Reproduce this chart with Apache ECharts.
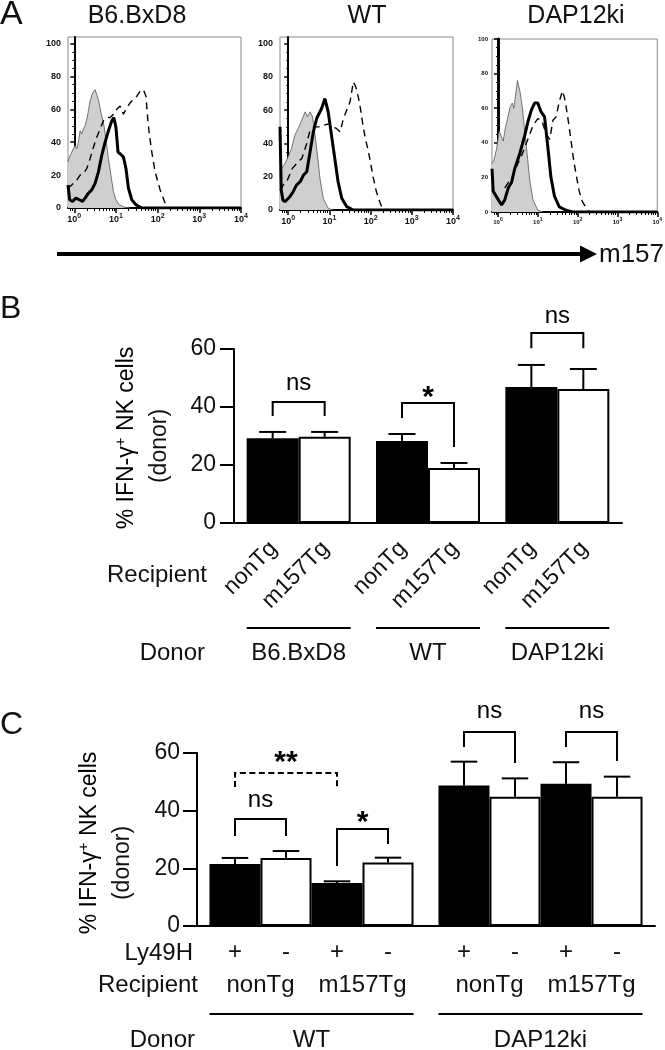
<!DOCTYPE html>
<html><head><meta charset="utf-8">
<script src="https://cdn.jsdelivr.net/npm/echarts@6/dist/echarts.min.js"></script>
<style>html,body{margin:0;padding:0;background:#fff}#c{width:665px;height:1050px}</style>
</head><body><div id="c"></div>
<script>
// ---------------- Panel A: flow histograms, x = log10(m157), y = % of max ----------------
const aTitles = ['B6.BxD8', 'WT', 'DAP12ki'];
const aDecades = [0, 1, 2, 3, 4];
const aYTicks = [0, 20, 40, 60, 80, 100];

const isoB6 = [[-0.15,28],[-0.13,30],[-0.06,34],[0.02,38],[0.06,36],[0.10,40],[0.14,47],[0.18,45],[0.22,48],[0.26,50],[0.31,55],[0.38,65],[0.44,70],[0.50,72],[0.54,69],[0.58,66],[0.64,58],[0.70,52],[0.76,42],[0.82,30],[0.88,20],[0.94,10],[1.00,5],[1.08,2],[1.20,0.5],[1.35,0]];
const solidB6 = [[-0.15,14],[-0.11,5],[-0.04,4],[0.04,6],[0.12,5],[0.20,4],[0.26,6],[0.34,9],[0.42,11],[0.50,15],[0.58,22],[0.66,32],[0.74,40],[0.82,47],[0.90,53],[0.95,55],[1.00,49],[1.05,34],[1.10,33],[1.18,31],[1.24,24],[1.30,12],[1.38,5],[1.48,2],[1.62,0],[4,0]];
const dashB6 = [[-0.15,12],[-0.06,14],[0.06,17],[0.14,20],[0.22,21],[0.30,24],[0.38,30],[0.46,37],[0.54,43],[0.62,48],[0.70,53],[0.78,55],[0.86,55],[0.94,57],[1.02,60],[1.10,62],[1.18,57],[1.26,61],[1.34,64],[1.42,66],[1.50,68],[1.58,71],[1.66,72],[1.72,68],[1.76,55],[1.80,45],[1.86,34],[1.94,22],[2.06,11],[2.18,3],[2.26,0]];

const isoWT = [[-0.20,24],[-0.10,27],[-0.02,31],[0.08,37],[0.16,45],[0.24,49],[0.33,54],[0.41,59],[0.47,56],[0.53,59],[0.59,56],[0.65,45],[0.71,33],[0.77,19],[0.85,7],[0.97,1],[1.09,0]];
const solidWT = [[-0.20,50],[-0.17,12],[-0.13,6],[-0.08,5],[0.04,8],[0.12,11],[0.20,15],[0.29,17],[0.37,21],[0.45,23],[0.53,35],[0.61,47],[0.69,55],[0.81,61],[0.89,67],[0.97,59],[1.05,45],[1.13,31],[1.21,17],[1.30,7],[1.42,2],[1.58,0],[4,0]];
const dashWT = [[-0.20,12],[-0.12,15],[-0.02,18],[0.10,25],[0.24,29],[0.33,31],[0.45,40],[0.53,48],[0.63,50],[0.75,50],[0.87,51],[1.01,52],[1.09,50],[1.17,49],[1.26,47],[1.34,55],[1.42,60],[1.50,65],[1.58,77],[1.64,74],[1.70,68],[1.76,60],[1.82,50],[1.88,42],[1.94,36],[2.00,28],[2.06,20],[2.14,11],[2.22,5],[2.30,0]];

const isoDAP = [[-0.15,28],[-0.10,30],[-0.03,37],[0.03,47],[0.07,48],[0.13,41],[0.19,49],[0.25,55],[0.31,61],[0.36,63],[0.40,60],[0.45,69],[0.49,76],[0.55,70],[0.61,61],[0.67,47],[0.73,34],[0.80,18],[0.88,7],[1.00,1],[1.13,0]];
const solidDAP = [[-0.15,25],[-0.12,12],[-0.08,11],[0.01,7],[0.09,4],[0.17,7],[0.26,14],[0.34,17],[0.42,25],[0.55,34],[0.67,44],[0.75,52],[0.84,59],[0.92,63],[1.00,63],[1.08,58],[1.17,55],[1.25,38],[1.33,20],[1.42,9],[1.54,3],[1.71,1],[1.87,0],[4,0]];
const dashDAP = [[0.17,14],[0.26,17],[0.34,19],[0.46,26],[0.60,33],[0.75,42],[0.88,50],[1.00,54],[1.10,53],[1.21,45],[1.30,42],[1.38,53],[1.46,55],[1.54,64],[1.62,70],[1.67,66],[1.71,61],[1.77,52],[1.83,42],[1.90,30],[1.96,22],[2.04,12],[2.12,6],[2.20,3],[2.29,0]];

// ---------------- Panel B ----------------
const bDonors = ['B6.BxD8', 'WT', 'DAP12ki'];
const bRecipients = ['nonTg', 'm157Tg'];
const bNonTg = [29.2, 28.3, 46.9];
const bNonTgErr = [2.2, 2.4, 7.6];
const bM157Tg = [29.7, 19.0, 46.2];
const bM157TgErr = [1.7, 1.7, 6.9];
const bSigCat = [0, 1, 2];
const bSigLeft = [0, 0, 0];
const bSigRight = [1, 1, 1];
const bSigTop = [41.7, 41.4, 65.5];
const bSigLeftEnd = [36.9, 36.2, 60.3];
const bSigRightEnd = [36.9, 26.2, 60.3];
const bSigLabelY = [48.3, 43.1, 71.4];
const bSigLabel = ['ns', '*', 'ns'];
const bSigDashed = [false, false, false];

// ---------------- Panel C ----------------
const cDonors = ['WT', 'DAP12ki'];
const cRecipients = ['nonTg', 'm157Tg'];
const cLy49H = ['+', '-', '+', '-'];
const cNonTgPos = [21.5, 48.7];  const cNonTgPosErr = [2.1, 8.3];
const cNonTgNeg = [23.6, 44.8];  const cNonTgNegErr = [2.4, 6.4];
const cM157Pos = [14.9, 49.3];   const cM157PosErr = [0.6, 7.5];
const cM157Neg = [22.0, 44.8];   const cM157NegErr = [1.7, 7.0];
const cSigCat = [0, 0, 0, 1, 1];
const cSigLeft = [0, 0, 2, 0, 2];
const cSigRight = [1, 2, 3, 1, 3];
const cSigTop = [37.1, 53.1, 33.6, 67.3, 67.3];
const cSigLeftEnd = [31.2, 48.2, 20.8, 62.1, 62.1];
const cSigRightEnd = [31.2, 48.2, 28.4, 56.5, 57.2];
const cSigLabelY = [43.7, 56.5, 35.7, 74.6, 74.6];
const cSigLabel = ['ns', '**', '*', 'ns', 'ns'];
const cSigDashed = [false, true, false, false, false];

// ---------------- helpers ----------------
const FONT = '"Liberation Sans", Arial, Helvetica, sans-serif';
const GAP_B = 0.196, GAP_C = 0.109;

function barX(api, cat, idx, n, gap) {
  const w = api.size([1, 0])[0];
  const c = api.coord([cat, 0])[0];
  const inner = w * (1 - gap);
  return c - inner / 2 + inner / n * (idx + 0.5);
}
function barW(api, n, gap) { return api.size([1, 0])[0] * (1 - gap) / n; }

function errSeries(xi, yi, values, errs, idx, n, gap) {
  return {
    type: 'custom', xAxisIndex: xi, yAxisIndex: yi, silent: true, z: 3,
    data: values.map((v, i) => [i, v, v + errs[i]]),
    encode: { x: 0, y: [1, 2] },
    renderItem: (params, api) => {
      const cat = api.value(0);
      const x = barX(api, cat, idx, n, gap);
      const y0 = api.coord([cat, api.value(1)])[1];
      const y1 = api.coord([cat, api.value(2)])[1];
      const hw = barW(api, n, gap) / 4 + 0.5;
      return { type: 'group', children: [
        { type: 'line', shape: { x1: x, y1: y0, x2: x, y2: y1 }, style: { stroke: '#000', lineWidth: 2 } },
        { type: 'line', shape: { x1: x - hw, y1: y1, x2: x + hw, y2: y1 }, style: { stroke: '#000', lineWidth: 2 } }
      ] };
    }
  };
}

function sigSeries(xi, yi, cats, lefts, rights, tops, lEnds, rEnds, labYs, labels, dashed, n, gap) {
  return {
    type: 'custom', xAxisIndex: xi, yAxisIndex: yi, silent: true, clip: false, z: 4,
    data: cats.map((c, i) => [c, tops[i], lEnds[i], rEnds[i], labYs[i]]),
    encode: { x: 0, y: [1, 2, 3, 4] },
    renderItem: (params, api) => {
      const i = params.dataIndex, cat = api.value(0);
      const xl = barX(api, cat, lefts[i], n, gap), xr = barX(api, cat, rights[i], n, gap);
      const yt = api.coord([cat, api.value(1)])[1];
      const yl = api.coord([cat, api.value(2)])[1];
      const yr = api.coord([cat, api.value(3)])[1];
      const ylab = api.coord([cat, api.value(4)])[1];
      const star = labels[i].indexOf('*') >= 0;
      return { type: 'group', children: [
        { type: 'polyline', shape: { points: [[xl, yl], [xl, yt], [xr, yt], [xr, yr]] },
          style: { stroke: '#000', lineWidth: 2, fill: null, lineDash: dashed[i] ? [6, 3.5] : null } },
        { type: 'text', x: (xl + xr) / 2, y: ylab,
          style: { text: labels[i], font: (star ? 'bold 30px ' : '24px ') + FONT, fill: '#000', align: 'center', verticalAlign: 'middle' } }
      ] };
    }
  };
}

// ---------------- panel A axes/series ----------------
const aGrids = [
  { left: 68, top: 37, width: 173, height: 171 },
  { left: 280, top: 37, width: 173, height: 173 },
  { left: 492, top: 39, width: 167, height: 173 }
];
const aMin = [-0.15, -0.2, -0.15];
const aMax = [104, 104, 100];
const aFont = [9, 9, 6];
const aIso = [isoB6, isoWT, isoDAP];
const aSolid = [solidB6, solidWT, solidDAP];
const aDash = [dashB6, dashWT, dashDAP];

function minorLogTicks(min) {
  const out = [];
  for (let d = -1; d < 4; d++) for (let k = 2; k <= 9; k++) {
    const v = d + Math.log10(k);
    if (v > min && v < 4) out.push(v);
  }
  return out;
}

const xAxes = [], yAxes = [], series = [], grids = [];
aGrids.forEach((g, p) => {
  grids.push(Object.assign({ show: true, borderColor: '#8a8a8a', borderWidth: 1, backgroundColor: 'transparent' }, g));
  const fs = aFont[p];
  xAxes.push({
    type: 'value', gridIndex: p, min: aMin[p], max: 4, position: 'bottom',
    axisLine: { show: true, lineStyle: { color: '#000', width: 2 } },
    axisTick: { show: true, length: 5, customValues: aDecades, lineStyle: { color: '#000', width: 1.5 } },
    axisLabel: { customValues: aDecades, margin: 5, color: '#111',
      formatter: v => '{b|10}{s|' + Math.round(v) + '}',
      rich: { b: { fontSize: fs, fontFamily: FONT, fontWeight: 'bold', color: '#111' },
              s: { fontSize: Math.round(fs * 0.75), fontFamily: FONT, fontWeight: 'bold', color: '#111', padding: [0, 0, Math.round(fs * 0.8), 0] } } },
    splitLine: { show: false }
  });
  xAxes.push({
    type: 'value', gridIndex: p, min: aMin[p], max: 4, position: 'bottom',
    axisLine: { show: false }, axisLabel: { show: false }, splitLine: { show: false },
    axisTick: { show: true, length: 3, customValues: minorLogTicks(aMin[p]), lineStyle: { color: '#000', width: 1 } }
  });
  yAxes.push({
    type: 'value', gridIndex: p, min: 0, max: aMax[p], interval: 20,
    axisLine: { show: true, lineStyle: { color: '#000', width: p === 2 ? 3 : 2 } },
    axisTick: { show: true, length: 4, customValues: aYTicks, lineStyle: { color: '#000', width: 1.5 } },
    minorTick: { show: true, splitNumber: 4, length: 2, lineStyle: { color: '#000', width: 1 } },
    axisLabel: { customValues: aYTicks, fontSize: fs, fontFamily: FONT, fontWeight: 'bold', color: '#111', margin: p === 2 ? 4 : 7 },
    splitLine: { show: false }
  });
  const xi = p * 2;
  series.push({ type: 'line', xAxisIndex: xi, yAxisIndex: p, data: aIso[p], symbol: 'none', silent: true, z: 1,
    lineStyle: { color: '#555', width: 0.8 }, areaStyle: { color: '#cfcfcf', opacity: 1 } });
  series.push({ type: 'line', xAxisIndex: xi, yAxisIndex: p, data: aDash[p], symbol: 'none', silent: true, z: 2,
    lineStyle: { color: '#000', width: 1.4, type: [7, 5] } });
  series.push({ type: 'line', xAxisIndex: xi, yAxisIndex: p, data: aSolid[p], symbol: 'none', silent: true, z: 3,
    lineStyle: { color: '#000', width: 3 } });
});

// ---------------- panel B ----------------
grids.push({ left: 234, right: 43, top: 349, bottom: 527 });
const xiB = xAxes.length, yiB = yAxes.length;
xAxes.push({ type: 'category', gridIndex: 3, data: bDonors,
  axisLine: { show: true, lineStyle: { color: '#000', width: 2 } }, axisTick: { show: false }, axisLabel: { show: false } });
const valAxis = (gi, margin) => ({
  type: 'value', gridIndex: gi, min: 0, max: 60, interval: 20,
  axisLine: { show: true, lineStyle: { color: '#000', width: 2 } },
  axisTick: { show: true, length: 14, lineStyle: { color: '#000', width: 2 } },
  axisLabel: { fontSize: 23, fontFamily: FONT, color: '#111', margin: margin },
  splitLine: { show: false }
});
yAxes.push(valAxis(3, 18));
const blackBar = { color: '#000', borderColor: '#000', borderWidth: 2 };
const whiteBar = { color: '#fff', borderColor: '#000', borderWidth: 2 };
series.push({ type: 'bar', xAxisIndex: xiB, yAxisIndex: yiB, data: bNonTg, barGap: '0%', barCategoryGap: (GAP_B * 100) + '%', itemStyle: blackBar, silent: true });
series.push({ type: 'bar', xAxisIndex: xiB, yAxisIndex: yiB, data: bM157Tg, barGap: '0%', barCategoryGap: (GAP_B * 100) + '%', itemStyle: whiteBar, silent: true });
series.push(errSeries(xiB, yiB, bNonTg, bNonTgErr, 0, 2, GAP_B));
series.push(errSeries(xiB, yiB, bM157Tg, bM157TgErr, 1, 2, GAP_B));
series.push(sigSeries(xiB, yiB, bSigCat, bSigLeft, bSigRight, bSigTop, bSigLeftEnd, bSigRightEnd, bSigLabelY, bSigLabel, bSigDashed, 2, GAP_B));
// labels under the axis
series.push({
  type: 'custom', xAxisIndex: xiB, yAxisIndex: yiB, silent: true, clip: false,
  data: bDonors.map((d, i) => [i, 0]), encode: { x: 0, y: 1 },
  renderItem: (params, api) => {
    const cat = api.value(0);
    const y0 = api.coord([cat, 0])[1];
    const bw = barW(api, 2, GAP_B);
    const xs = [0, 1].map(k => barX(api, cat, k, 2, GAP_B));
    const kids = bRecipients.map((r, k) => ({ type: 'text', x: xs[k] + 1, y: y0 + 22, rotation: Math.PI / 4,
      style: { text: r, font: '23px ' + FONT, fill: '#111', align: 'right', verticalAlign: 'middle' } }));
    kids.push({ type: 'line', shape: { x1: xs[0] - bw / 2, y1: y0 + 105, x2: xs[1] + bw / 2, y2: y0 + 105 }, style: { stroke: '#000', lineWidth: 2 } });
    kids.push({ type: 'text', x: (xs[0] + xs[1]) / 2, y: y0 + 130,
      style: { text: bDonors[cat], font: '24px ' + FONT, fill: '#111', align: 'center', verticalAlign: 'middle' } });
    return { type: 'group', children: kids };
  }
});

// ---------------- panel C ----------------
grids.push({ left: 197, right: 10, top: 753, bottom: 124 });
const xiC = xAxes.length, yiC = yAxes.length;
xAxes.push({ type: 'category', gridIndex: 4, data: cDonors,
  axisLine: { show: true, lineStyle: { color: '#000', width: 2 } }, axisTick: { show: false }, axisLabel: { show: false } });
yAxes.push(valAxis(4, 17));
const cSeries = [[cNonTgPos, cNonTgPosErr], [cNonTgNeg, cNonTgNegErr], [cM157Pos, cM157PosErr], [cM157Neg, cM157NegErr]];
cSeries.forEach((s, k) => {
  series.push({ type: 'bar', xAxisIndex: xiC, yAxisIndex: yiC, data: s[0], barGap: '0%', barCategoryGap: (GAP_C * 100) + '%',
    itemStyle: k % 2 === 0 ? blackBar : whiteBar, silent: true });
});
cSeries.forEach((s, k) => series.push(errSeries(xiC, yiC, s[0], s[1], k, 4, GAP_C)));
series.push(sigSeries(xiC, yiC, cSigCat, cSigLeft, cSigRight, cSigTop, cSigLeftEnd, cSigRightEnd, cSigLabelY, cSigLabel, cSigDashed, 4, GAP_C));
series.push({
  type: 'custom', xAxisIndex: xiC, yAxisIndex: yiC, silent: true, clip: false,
  data: cDonors.map((d, i) => [i, 0]), encode: { x: 0, y: 1 },
  renderItem: (params, api) => {
    const cat = api.value(0);
    const y0 = api.coord([cat, 0])[1];
    const bw = barW(api, 4, GAP_C);
    const xs = [0, 1, 2, 3].map(k => barX(api, cat, k, 4, GAP_C));
    const kids = cLy49H.map((s, k) => ({ type: 'text', x: xs[k], y: y0 + 26,
      style: { text: s, font: '24px ' + FONT, fill: '#111', align: 'center', verticalAlign: 'middle' } }));
    cRecipients.forEach((r, k) => kids.push({ type: 'text', x: (xs[2 * k] + xs[2 * k + 1]) / 2, y: y0 + 59,
      style: { text: r, font: '24px ' + FONT, fill: '#111', align: 'center', verticalAlign: 'middle' } }));
    kids.push({ type: 'line', shape: { x1: xs[0] - bw / 2, y1: y0 + 88, x2: xs[3] + bw / 2, y2: y0 + 88 }, style: { stroke: '#000', lineWidth: 2 } });
    kids.push({ type: 'text', x: (xs[0] + xs[3]) / 2, y: y0 + 114,
      style: { text: cDonors[cat], font: '24px ' + FONT, fill: '#111', align: 'center', verticalAlign: 'middle' } });
    return { type: 'group', children: kids };
  }
});

// ---------------- static text ----------------
const txt = (x, y, text, size, align, extra) => Object.assign({ type: 'text', x: x, y: y, silent: true,
  style: { text: text, font: size + 'px ' + FONT, fill: '#111', align: align || 'left', verticalAlign: 'middle' } }, extra || {});
const yLabelRich = { t: { fontSize: 23, fontFamily: FONT, color: '#111' }, sup: { fontSize: 15, fontFamily: FONT, color: '#111', padding: [0, 0, 12, 0] } };
const yLab = (x, y) => ({ type: 'text', x: x, y: y, rotation: Math.PI / 2, silent: true,
  style: { text: '{t|% IFN-γ}{sup|+}{t| NK cells}', rich: yLabelRich, align: 'center', verticalAlign: 'middle' } });

const graphic = [
  txt(0, 15, 'A', 34),
  txt(137, 16, aTitles[0], 25, 'center'),
  txt(367, 16, aTitles[1], 25, 'center'),
  txt(576, 16, aTitles[2], 25, 'center'),
  { type: 'line', silent: true, shape: { x1: 57, y1: 254, x2: 584, y2: 254 }, style: { stroke: '#000', lineWidth: 4 } },
  { type: 'polygon', silent: true, shape: { points: [[580, 245.5], [597, 254], [580, 262.5]] }, style: { fill: '#000' } },
  txt(599, 255, 'm157', 26),
  txt(0, 309, 'B', 32),
  yLab(127, 438),
  txt(160, 446, '(donor)', 23, 'center', { rotation: Math.PI / 2 }),
  txt(207, 575, 'Recipient', 24, 'right'),
  txt(205, 653, 'Donor', 24, 'right'),
  txt(0, 725, 'C', 32),
  yLab(90, 843),
  txt(123, 863, '(donor)', 23, 'center', { rotation: Math.PI / 2 }),
  txt(193, 953, 'Ly49H', 24, 'right'),
  txt(198, 985, 'Recipient', 24, 'right'),
  txt(195, 1040, 'Donor', 24, 'right')
];

const chart = echarts.init(document.getElementById('c'), null, { renderer: 'canvas' });
chart.setOption({
  animation: false,
  backgroundColor: '#fff',
  textStyle: { fontFamily: FONT },
  grid: grids, xAxis: xAxes, yAxis: yAxes, series: series, graphic: graphic
});
</script></body></html>
